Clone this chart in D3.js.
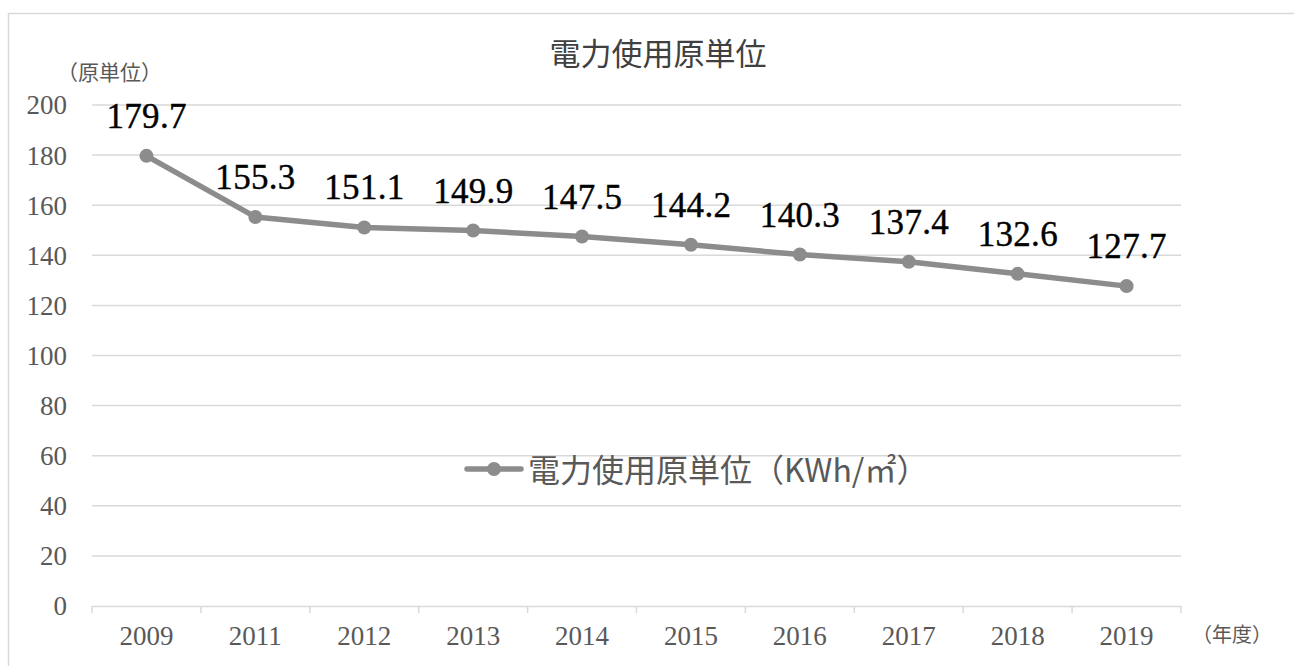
<!DOCTYPE html>
<html><head><meta charset="utf-8">
<script src="https://cdn.jsdelivr.net/npm/d3@7"></script>
<style>
html,body{margin:0;padding:0;background:#fff;}
svg{display:block;}
</style></head>
<body>
<script>
const categories = ["2009","2011","2012","2013","2014","2015","2016","2017","2018","2019"];
const values = [179.7,155.3,151.1,149.9,147.5,144.2,140.3,137.4,132.6,127.7];
const yTicks = [0,20,40,60,80,100,120,140,160,180,200];
const title = "電力使用原単位";
const seriesName = "電力使用原単位（KWh/㎡）";
const yAxisTitle = "（原単位）";
const xAxisTitle = "（年度）";

const W = 1294, H = 666;
const svg = d3.select("body").append("svg").attr("width", W).attr("height", H);
const jp = "'Noto Sans CJK JP', sans-serif";
const num = "'Liberation Serif', serif";

svg.append("rect").attr("x", 8.5).attr("y", 13.5).attr("width", 1300).attr("height", 700)
  .attr("fill", "#fff").attr("stroke", "#d9d9d9").attr("stroke-width", 1.5);

const x = d3.scaleBand().domain(categories).range([92, 1181]);
const y = d3.scaleLinear().domain([0, 200]).range([606, 105]);

// gridlines
svg.append("g").selectAll("line").data(yTicks.filter(d => d > 0)).join("line")
  .attr("x1", 92).attr("x2", 1181)
  .attr("y1", d => y(d)).attr("y2", d => y(d))
  .attr("stroke", "#d9d9d9").attr("stroke-width", 1.5);

// y axis labels
const yAxis = d3.axisLeft(y).tickValues(yTicks).tickSize(0).tickPadding(0);
const gy = svg.append("g").attr("transform", "translate(67,0)").call(yAxis);
gy.select(".domain").remove();
gy.selectAll("text").attr("font-family", num).attr("font-size", 27).attr("fill", "#595959")
  .attr("dy", "0.33em");

// x axis
const xAxis = d3.axisBottom(x).tickSize(0).tickPadding(0);
const gx = svg.append("g").attr("transform", "translate(0,606)").call(xAxis);
gx.select(".domain").attr("stroke", "#d9d9d9").attr("stroke-width", 1.5);
gx.selectAll("text").attr("font-family", num).attr("font-size", 27).attr("fill", "#595959")
  .attr("y", 39).attr("dy", 0);
// category boundary ticks
const bounds = categories.map(c => x(c)).concat([x.range()[1]]);
gx.append("g").selectAll("line").data(bounds).join("line")
  .attr("x1", d => d).attr("x2", d => d).attr("y1", 0).attr("y2", 7)
  .attr("stroke", "#d9d9d9").attr("stroke-width", 1.5);

// line
const cx = d => x(d) + x.bandwidth() / 2;
const data = categories.map((c, i) => ({c, v: values[i]}));
svg.append("path").datum(data)
  .attr("d", d3.line().x(d => cx(d.c)).y(d => y(d.v)))
  .attr("fill", "none").attr("stroke", "#8c8c8c").attr("stroke-width", 5.5)
  .attr("stroke-linejoin", "round");
svg.append("g").selectAll("circle").data(data).join("circle")
  .attr("cx", d => cx(d.c)).attr("cy", d => y(d.v)).attr("r", 7)
  .attr("fill", "#8c8c8c");

// data labels
svg.append("g").selectAll("text").data(data).join("text")
  .attr("x", d => cx(d.c)).attr("y", d => y(d.v) - 28)
  .attr("text-anchor", "middle").attr("font-family", num).attr("font-size", 35)
  .attr("fill", "#000").attr("stroke", "#000").attr("stroke-width", 0.4)
  .attr("textLength", 80).attr("lengthAdjust", "spacing")
  .text(d => d.v.toFixed(1));

// title
svg.append("text").attr("x", 658).attr("y", 65).attr("text-anchor", "middle")
  .attr("font-family", jp).attr("font-size", 31).attr("fill", "#404040").text(title);

// axis titles
svg.append("text").attr("x", 57).attr("y", 80).attr("font-family", jp)
  .attr("font-size", 21).attr("fill", "#595959").text(yAxisTitle);
svg.append("text").attr("x", 1192).attr("y", 642).attr("font-family", jp)
  .attr("font-size", 20).attr("fill", "#595959").text(xAxisTitle);

// legend
const lg = svg.append("g").attr("transform", "translate(467,469)");
lg.append("line").attr("x1", 0).attr("x2", 54).attr("y1", 0).attr("y2", 0)
  .attr("stroke", "#8c8c8c").attr("stroke-width", 5.5).attr("stroke-linecap", "round");
lg.append("circle").attr("cx", 27).attr("cy", 0).attr("r", 7).attr("fill", "#8c8c8c");
lg.append("text").attr("x", 61).attr("y", 13).attr("font-family", jp)
  .attr("font-size", 32).attr("fill", "#595959").text(seriesName);
</script>
</body></html>
